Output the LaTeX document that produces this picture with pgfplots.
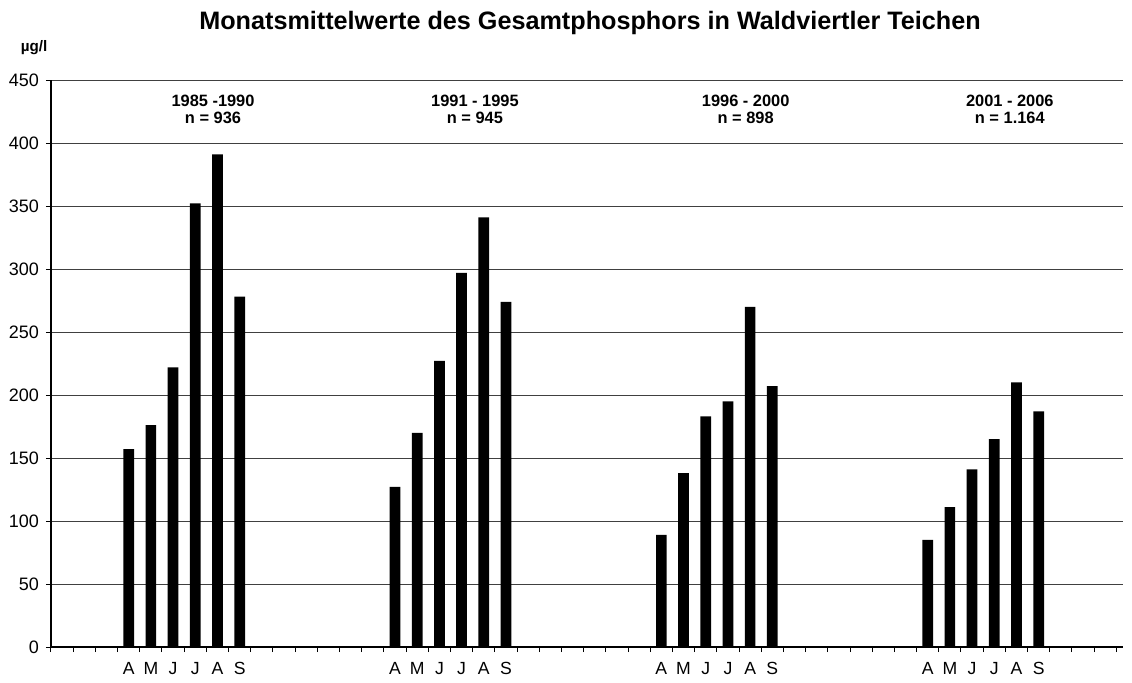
\documentclass[border=0pt]{standalone}
\usepackage{fontspec}
\setmainfont{Liberation Sans}
\usepackage{pgfplots}
\pgfplotsset{compat=1.18}
\begin{document}
\begin{tikzpicture}
\useasboundingbox (0,0) rectangle (566pt,341pt);
\node[font=\bfseries\fontsize{12.6}{15}\selectfont] at (295pt,329.5pt) {Monatsmittelwerte des Gesamtphosphors in Waldviertler Teichen};
\node[font=\bfseries\fontsize{7.6}{9}\selectfont] at (17pt,317pt) {µg/l};
\begin{axis}[
  at={(25.5pt,17.5pt)}, anchor=south west,
  scale only axis, width=536pt, height=283.5pt,
  xmin=-0.5, xmax=47.8, ymin=0, ymax=450,
  axis lines*=left,
  axis line style={black, line width=0.6pt},
  ytick={0,50,...,450},
  ymajorgrids,
  grid style={black!75, line width=0.5pt},
  tick align=outside,
  major tick length=2.5pt,
  minor tick length=2.5pt,
  xtick={3,4,5,6,7,8,15,16,17,18,19,20,27,28,29,30,31,32,39,40,41,42,43,44},
  xticklabels={A,M,J,J,A,S,A,M,J,J,A,S,A,M,J,J,A,S,A,M,J,J,A,S},
  every major x tick/.style={draw=none},
  minor xtick={-0.5,0.5,...,47.5},
  tick style={black, line width=0.5pt},
  xticklabel style={yshift=-1.8pt, font=\fontsize{8.8}{10}\selectfont},
  yticklabel style={font=\fontsize{9}{10}\selectfont},
  /pgf/number format/assume math mode=true,
  clip=false,
]
\addplot[ybar, bar width=5.35pt, fill=black, draw=none] coordinates {
 (3,157) (4,176) (5,222) (6,352) (7,391) (8,278)
 (15,127) (16,170) (17,227) (18,297) (19,341) (20,274)
 (27,89) (28,138) (29,183) (30,195) (31,270) (32,207)
 (39,85) (40,111) (41,141) (42,165) (43,210) (44,187)
};
\tikzset{grp/.style={font=\bfseries\fontsize{8.2}{8.6}\selectfont, align=center}}
\node[grp] at (axis cs:6.8,427) {1985 -1990\\n = 936};
\node[grp] at (axis cs:18.6,427) {1991 - 1995\\n = 945};
\node[grp] at (axis cs:30.8,427) {1996 - 2000\\n = 898};
\node[grp] at (axis cs:42.7,427) {2001 - 2006\\n = 1.164};
\end{axis}
\end{tikzpicture}
\end{document}
